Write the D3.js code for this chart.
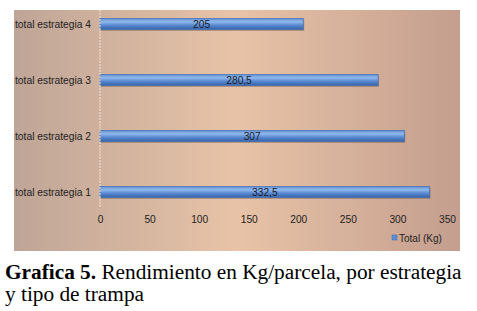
<!DOCTYPE html>
<html><head><meta charset="utf-8">
<script src="https://cdn.jsdelivr.net/npm/d3@7"></script>
<style>body{margin:0;background:#fff}svg{display:block}</style>
</head><body>
<svg id="c" width="477" height="311"></svg>
<script>
const categories = ["total estrategia 4","total estrategia 3","total estrategia 2","total estrategia 1"];
const values = [205, 280.5, 307, 332.5];
const valueLabels = ["205","280,5","307","332,5"];
const ticks = [0,50,100,150,200,250,300,350];
const legendLabel = "Total (Kg)";
const captionBold = "Grafica 5.";
const captionRest = " Rendimiento en Kg/parcela, por estrategia";
const captionLine2 = "y tipo de trampa";

const svg = d3.select("#c");
const defs = svg.append("defs");
const bg = defs.append("linearGradient").attr("id","bg").attr("x1","0").attr("x2","1").attr("y1","0").attr("y2","0");
bg.append("stop").attr("offset","0").attr("stop-color","#bfa597");
bg.append("stop").attr("offset","0.5").attr("stop-color","#e8c3a7");
bg.append("stop").attr("offset","1").attr("stop-color","#c49e8e");
const bar = defs.append("linearGradient").attr("id","bar").attr("x1","0").attr("x2","0").attr("y1","0").attr("y2","1");
bar.append("stop").attr("offset","0").attr("stop-color","#5e8fd4");
bar.append("stop").attr("offset","0.3").attr("stop-color","#93b9ec");
bar.append("stop").attr("offset","0.6").attr("stop-color","#5a8ad2");
bar.append("stop").attr("offset","1").attr("stop-color","#3663a8");

svg.append("rect").attr("x",14).attr("y",10).attr("width",446).attr("height",241).attr("fill","url(#bg)");

const x = d3.scaleLinear().domain([0,350]).range([100,447]);
const y = d3.scalePoint().domain(categories).range([24,192]);
const bh = 11;

const font = "Liberation Sans, Arial, sans-serif";

// bars with shadow
svg.append("g").selectAll("rect").data(categories).join("rect")
  .attr("x", x(0)+1).attr("y", d=>y(d)-bh/2+1.5)
  .attr("width", (d,i)=>x(values[i])-x(0)).attr("height", bh)
  .attr("fill","#6f5f5c").attr("opacity",0.45);
svg.append("g").selectAll("rect").data(categories).join("rect")
  .attr("x", x(0)).attr("y", d=>y(d)-bh/2)
  .attr("width", (d,i)=>x(values[i])-x(0)).attr("height", bh)
  .attr("fill","url(#bar)").attr("stroke","#3f6fb5").attr("stroke-width",0.7);

// y axis
svg.append("line").attr("x1",x(0)).attr("x2",x(0)).attr("y1",10).attr("y2",207)
  .attr("stroke","#f1e4d8").attr("stroke-width",1).attr("stroke-dasharray","2,1");

svg.append("g").selectAll("text").data(categories).join("text")
  .attr("x",15).attr("y",d=>y(d)+4)
  .attr("font-family",font).attr("font-size",10.2).attr("fill","#222")
  .attr("textLength",76).attr("lengthAdjust","spacingAndGlyphs")
  .text(d=>d);

// value labels
svg.append("g").selectAll("text").data(categories).join("text")
  .attr("x",(d,i)=>(x(0)+x(values[i]))/2).attr("y",d=>y(d)+4)
  .attr("text-anchor","middle")
  .attr("font-family",font).attr("font-size",10.2).attr("fill","#1a1a2a")
  .text((d,i)=>valueLabels[i]);

// x axis ticks
const xa = d3.axisBottom(x).tickValues(ticks).tickSize(0).tickPadding(0);
const gx = svg.append("g").attr("transform","translate(0,216)").call(xa);
gx.select(".domain").remove();
gx.selectAll("text").attr("font-family",font).attr("font-size",10.2).attr("fill","#222");

// legend
svg.append("rect").attr("x",392).attr("y",235).attr("width",5).attr("height",5).attr("fill","#5d8fd6").attr("stroke","#3b68ad").attr("stroke-width",0.5);
svg.append("text").attr("x",399).attr("y",242).attr("font-family",font).attr("font-size",10).attr("fill","#222").text(legendLabel);

// caption
const cap = svg.append("text").attr("x",5).attr("y",279).attr("font-family","Liberation Serif, Times New Roman, serif").attr("font-size",19).attr("fill","#000");
cap.append("tspan").attr("font-weight","bold").text(captionBold);
cap.append("tspan").text(captionRest);
const w = cap.node().getComputedTextLength();
const fs = 19*457/w;
cap.attr("font-size",fs);
svg.append("text").attr("x",5).attr("y",301).attr("font-family","Liberation Serif, Times New Roman, serif").attr("font-size",fs).attr("fill","#000").text(captionLine2);
</script>
</body></html>
